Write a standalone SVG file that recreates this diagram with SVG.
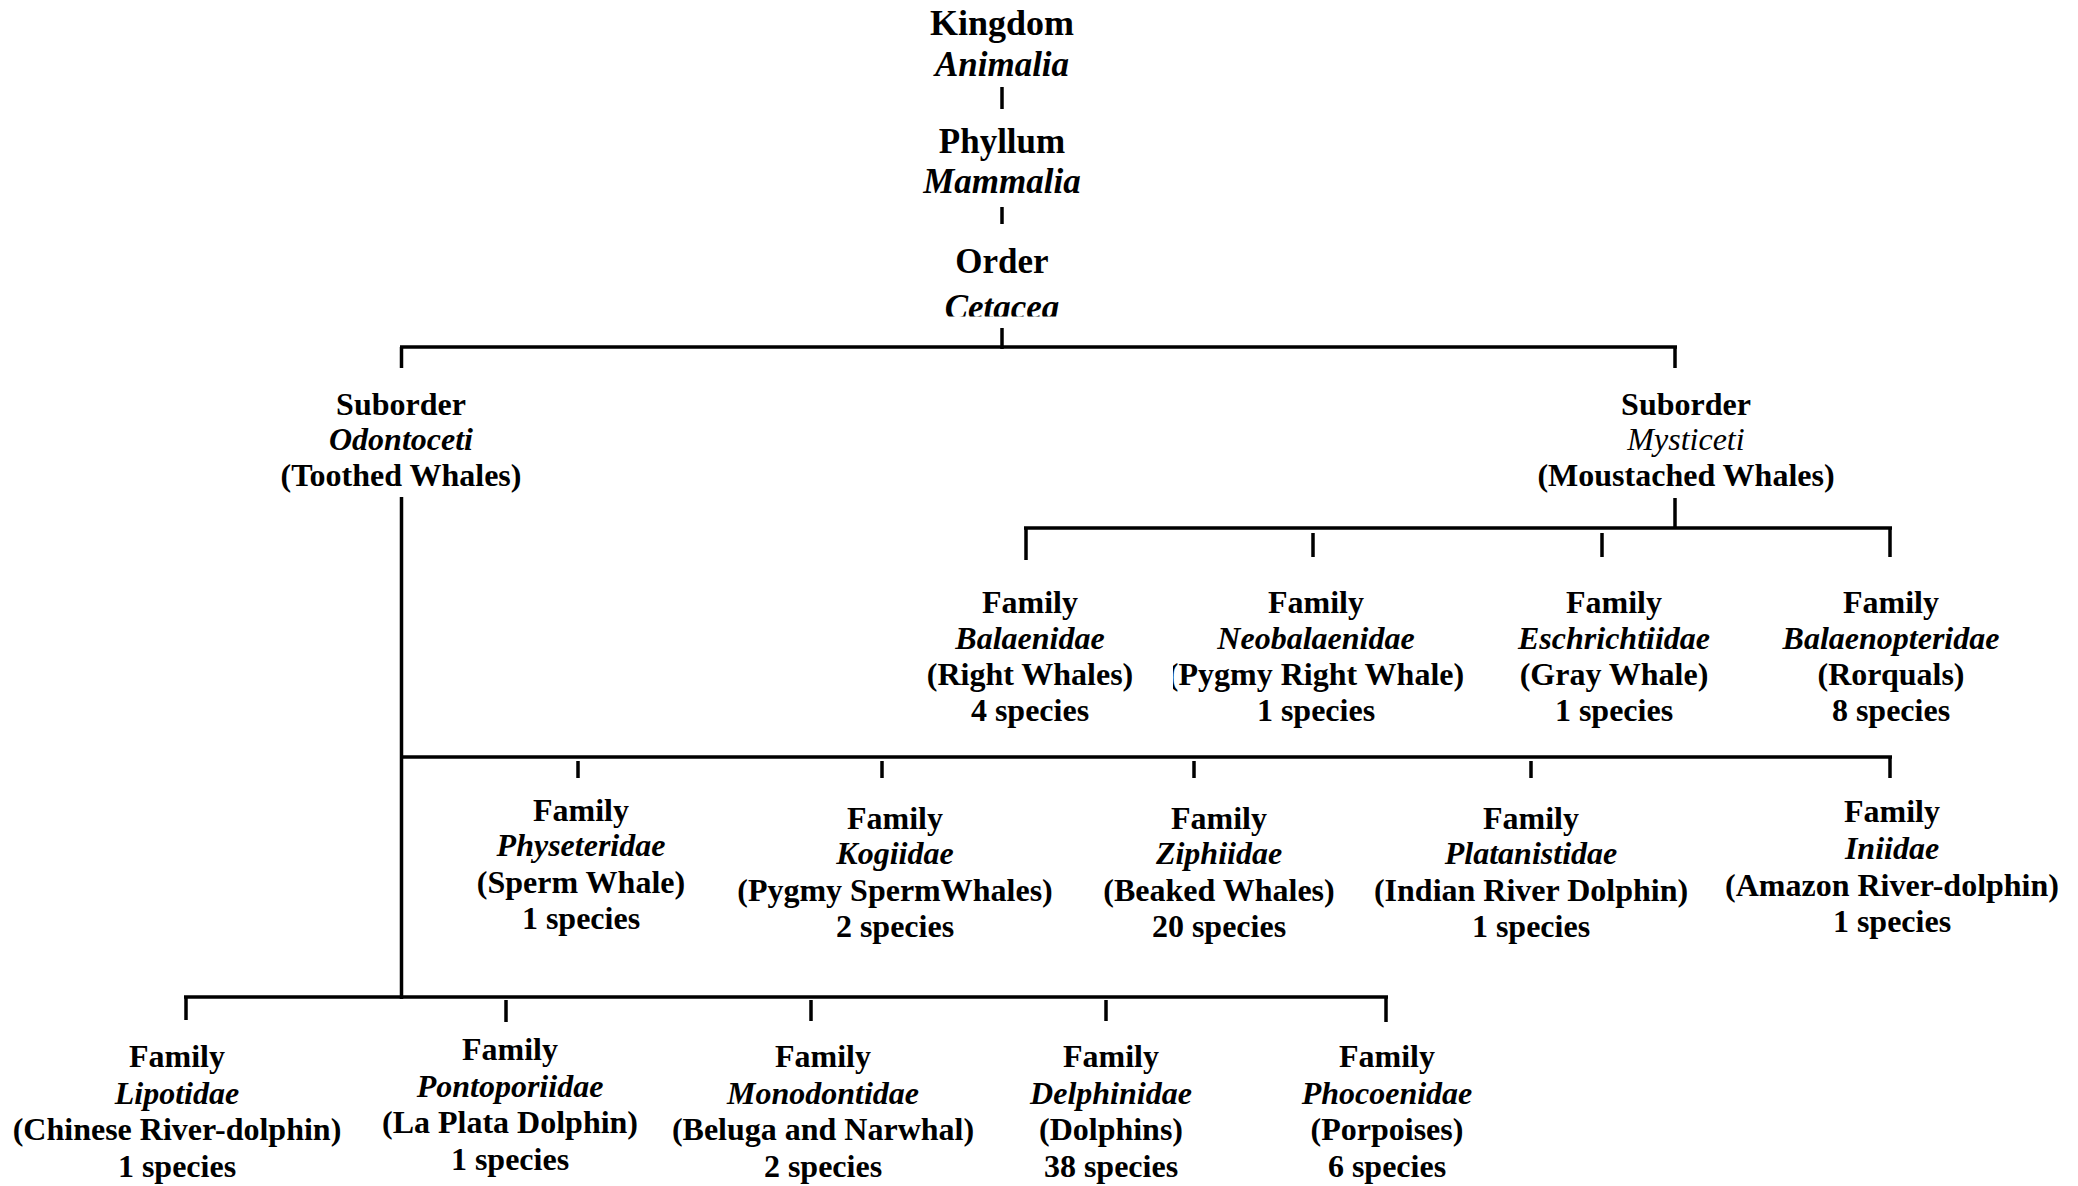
<svg xmlns="http://www.w3.org/2000/svg" width="2078" height="1186" viewBox="0 0 2078 1186">
<style>
text{font-family:"Liberation Serif","Times New Roman",serif;font-weight:bold;text-anchor:middle;fill:#000}
.t{font-size:35px}
.k{font-size:36px}
.f{font-size:32px}
.i{font-style:italic}
.r{font-weight:normal}
#conn line{stroke:#000;stroke-width:3.5;stroke-linecap:butt}
</style>
<defs>
<clipPath id="clipCet"><rect x="0" y="0" width="2078" height="316.5"/></clipPath>
<clipPath id="clipNeo"><rect x="1173" y="0" width="905" height="1186"/></clipPath>
</defs>
<rect width="2078" height="1186" fill="#fff"/>
<g id="conn">
<line x1="1002" y1="87" x2="1002" y2="109"/>
<line x1="1002" y1="207" x2="1002" y2="224"/>
<line x1="1002" y1="328" x2="1002" y2="349"/>
<line x1="400" y1="347" x2="1677" y2="347"/>
<line x1="401.5" y1="347" x2="401.5" y2="368"/>
<line x1="1675" y1="347" x2="1675" y2="368"/>
<line x1="1675" y1="498" x2="1675" y2="528"/>
<line x1="1024" y1="528" x2="1892" y2="528"/>
<line x1="1026" y1="528" x2="1026" y2="560"/>
<line x1="1313" y1="533" x2="1313" y2="557"/>
<line x1="1602" y1="533" x2="1602" y2="557"/>
<line x1="1890" y1="528" x2="1890" y2="557"/>
<line x1="401.5" y1="497" x2="401.5" y2="999"/>
<line x1="400" y1="757" x2="1892" y2="757"/>
<line x1="578" y1="761" x2="578" y2="778"/>
<line x1="882" y1="761" x2="882" y2="778"/>
<line x1="1194" y1="761" x2="1194" y2="778"/>
<line x1="1531" y1="761" x2="1531" y2="778"/>
<line x1="1890" y1="757" x2="1890" y2="778"/>
<line x1="184" y1="997" x2="1388" y2="997"/>
<line x1="186" y1="997" x2="186" y2="1020"/>
<line x1="506" y1="1000" x2="506" y2="1022"/>
<line x1="811" y1="1000" x2="811" y2="1021"/>
<line x1="1106" y1="1000" x2="1106" y2="1021"/>
<line x1="1386" y1="997" x2="1386" y2="1022"/>
</g>
<g id="kingdom">
<text class="k" x="1002" y="35">Kingdom</text>
<text class="t i" x="1002" y="76">Animalia</text>
</g>
<g id="phyllum">
<text class="t" x="1002" y="153">Phyllum</text>
<text class="t i" x="1002" y="193">Mammalia</text>
</g>
<g id="order">
<text class="t" x="1002" y="273">Order</text>
<text class="t i" x="1002" y="319" clip-path="url(#clipCet)">Cetacea</text>
</g>
<g id="odontoceti">
<text class="f" x="401" y="415">Suborder</text>
<text class="f i" x="401" y="450">Odontoceti</text>
<text class="f" x="401" y="486">(Toothed Whales)</text>
</g>
<g id="mysticeti">
<text class="f" x="1686" y="415">Suborder</text>
<text class="f i r" x="1686" y="450">Mysticeti</text>
<text class="f" x="1686" y="486">(Moustached Whales)</text>
</g>
<g id="balaenidae">
<text class="f" x="1030" y="613">Family</text>
<text class="f i" x="1030" y="649">Balaenidae</text>
<text class="f" x="1030" y="685">(Right Whales)</text>
<text class="f" x="1030" y="721">4 species</text>
</g>
<g id="neobalaenidae">
<text class="f" x="1316" y="613">Family</text>
<text class="f i" x="1316" y="649">Neobalaenidae</text>
<text class="f" x="1316" y="685" clip-path="url(#clipNeo)">(Pygmy Right Whale)</text>
<text class="f" x="1316" y="721">1 species</text>
</g>
<g id="eschrichtiidae">
<text class="f" x="1614" y="613">Family</text>
<text class="f i" x="1614" y="649">Eschrichtiidae</text>
<text class="f" x="1614" y="685">(Gray Whale)</text>
<text class="f" x="1614" y="721">1 species</text>
</g>
<g id="balaenopteridae">
<text class="f" x="1891" y="613">Family</text>
<text class="f i" x="1891" y="649">Balaenopteridae</text>
<text class="f" x="1891" y="685">(Rorquals)</text>
<text class="f" x="1891" y="721">8 species</text>
</g>
<g id="physeteridae">
<text class="f" x="581" y="821">Family</text>
<text class="f i" x="581" y="856">Physeteridae</text>
<text class="f" x="581" y="893">(Sperm Whale)</text>
<text class="f" x="581" y="929">1 species</text>
</g>
<g id="kogiidae">
<text class="f" x="895" y="829">Family</text>
<text class="f i" x="895" y="864">Kogiidae</text>
<text class="f" x="895" y="901">(Pygmy SpermWhales)</text>
<text class="f" x="895" y="937">2 species</text>
</g>
<g id="ziphiidae">
<text class="f" x="1219" y="829">Family</text>
<text class="f i" x="1219" y="864">Ziphiidae</text>
<text class="f" x="1219" y="901">(Beaked Whales)</text>
<text class="f" x="1219" y="937">20 species</text>
</g>
<g id="platanistidae">
<text class="f" x="1531" y="829">Family</text>
<text class="f i" x="1531" y="864">Platanistidae</text>
<text class="f" x="1531" y="901">(Indian River Dolphin)</text>
<text class="f" x="1531" y="937">1 species</text>
</g>
<g id="iniidae">
<text class="f" x="1892" y="822">Family</text>
<text class="f i" x="1892" y="859">Iniidae</text>
<text class="f" x="1892" y="896">(Amazon River-dolphin)</text>
<text class="f" x="1892" y="932">1 species</text>
</g>
<g id="lipotidae">
<text class="f" x="177" y="1067">Family</text>
<text class="f i" x="177" y="1104">Lipotidae</text>
<text class="f" x="177" y="1140">(Chinese River-dolphin)</text>
<text class="f" x="177" y="1177">1 species</text>
</g>
<g id="pontoporiidae">
<text class="f" x="510" y="1060">Family</text>
<text class="f i" x="510" y="1097">Pontoporiidae</text>
<text class="f" x="510" y="1133">(La Plata Dolphin)</text>
<text class="f" x="510" y="1170">1 species</text>
</g>
<g id="monodontidae">
<text class="f" x="823" y="1067">Family</text>
<text class="f i" x="823" y="1104">Monodontidae</text>
<text class="f" x="823" y="1140">(Beluga and Narwhal)</text>
<text class="f" x="823" y="1177">2 species</text>
</g>
<g id="delphinidae">
<text class="f" x="1111" y="1067">Family</text>
<text class="f i" x="1111" y="1104">Delphinidae</text>
<text class="f" x="1111" y="1140">(Dolphins)</text>
<text class="f" x="1111" y="1177">38 species</text>
</g>
<g id="phocoenidae">
<text class="f" x="1387" y="1067">Family</text>
<text class="f i" x="1387" y="1104">Phocoenidae</text>
<text class="f" x="1387" y="1140">(Porpoises)</text>
<text class="f" x="1387" y="1177">6 species</text>
</g>
</svg>
